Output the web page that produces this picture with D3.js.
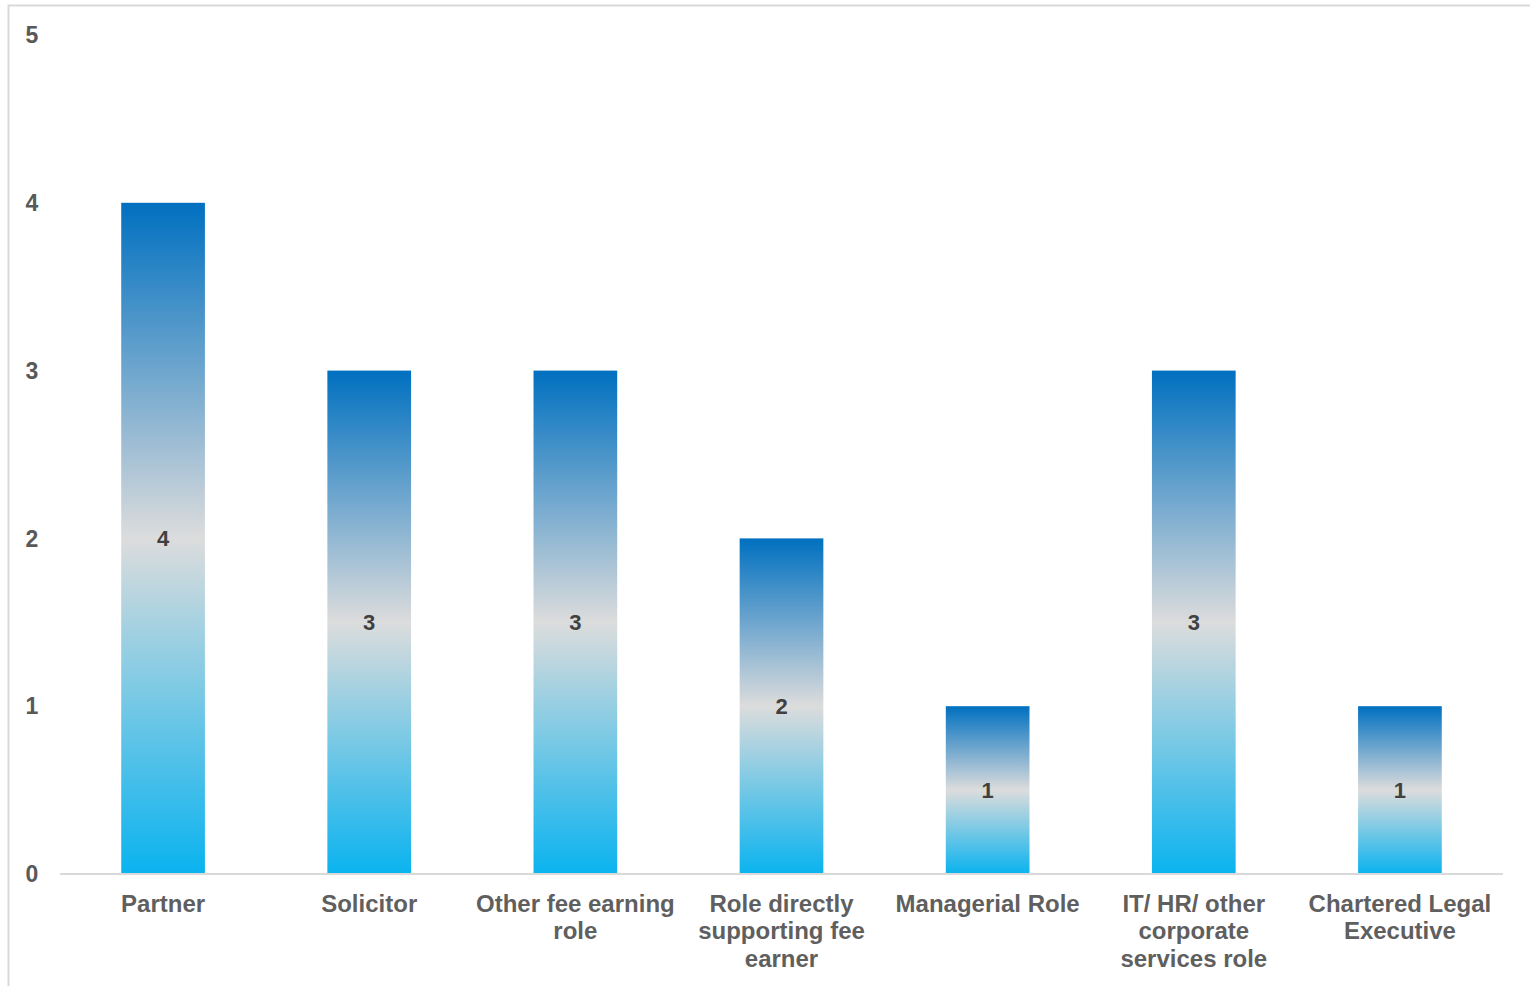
<!DOCTYPE html>
<html>
<head>
<meta charset="utf-8">
<script src="https://cdn.jsdelivr.net/npm/d3@7"></script>
<style>
  html, body { margin: 0; padding: 0; background: #fff; }
  svg { display: block; font-family: "Liberation Sans", Arial, sans-serif; }
</style>
</head>
<body>
<svg id="chart" width="1530" height="986"></svg>
<script>
const categories = ["Partner", "Solicitor", "Other fee earning role", "Role directly supporting fee earner", "Managerial Role", "IT/ HR/ other corporate services role", "Chartered Legal Executive"];
const values = [4, 3, 3, 2, 1, 3, 1];
const yTicks = [0, 1, 2, 3, 4, 5];

const svg = d3.select("#chart");
const W = 1530, H = 986;
const plot = { left: 60, right: 1503, top: 35, bottom: 874 };

// outer border (only top and left visible)
svg.append("rect")
  .attr("x", 8.5).attr("y", 5.5)
  .attr("width", W + 20).attr("height", H + 20)
  .attr("fill", "none").attr("stroke", "#d9d9d9").attr("stroke-width", 2);

const x = d3.scaleBand().domain(categories).range([plot.left, plot.right]).paddingInner(0.594).paddingOuter(0.297);
const y = d3.scaleLinear().domain([0, 5]).range([plot.bottom, plot.top]);

const defs = svg.append("defs");
const grad = defs.append("linearGradient").attr("id", "barGrad")
  .attr("x1", 0).attr("y1", 0).attr("x2", 0).attr("y2", 1);
grad.append("stop").attr("offset", "0%").attr("stop-color", "#0070C0");
grad.append("stop").attr("offset", "50%").attr("stop-color", "#DCDCDC");
grad.append("stop").attr("offset", "100%").attr("stop-color", "#0AB3EF");

svg.append("g").selectAll("rect").data(values).join("rect")
  .attr("x", (d, i) => x(categories[i]))
  .attr("y", d => y(d))
  .attr("width", x.bandwidth())
  .attr("height", d => y(0) - y(d))
  .attr("fill", "url(#barGrad)");

// value labels
svg.append("g").selectAll("text").data(values).join("text")
  .attr("x", (d, i) => x(categories[i]) + x.bandwidth() / 2)
  .attr("y", d => (y(d) + y(0)) / 2)
  .attr("dy", "0.36em")
  .attr("text-anchor", "middle")
  .attr("font-size", 22).attr("font-weight", "bold").attr("fill", "#404040")
  .text(d => d);

// baseline
svg.append("line")
  .attr("x1", plot.left).attr("x2", plot.right)
  .attr("y1", y(0)).attr("y2", y(0))
  .attr("stroke", "#d9d9d9").attr("stroke-width", 2);

// y tick labels
svg.append("g").selectAll("text").data(yTicks).join("text")
  .attr("x", 32).attr("y", d => y(d)).attr("dy", "0.36em")
  .attr("text-anchor", "middle")
  .attr("font-size", 23).attr("font-weight", "bold").attr("fill", "#595959")
  .text(d => d);

// category labels with wrapping
const maxW = 202;
const catG = svg.append("g");
categories.forEach(c => {
  const t = catG.append("text")
    .attr("x", x(c) + x.bandwidth() / 2)
    .attr("text-anchor", "middle")
    .attr("font-size", 24).attr("font-weight", "bold").attr("fill", "#5f5f5f");
  const words = c.split(" ");
  let lines = [], line = [];
  const probe = t.append("tspan");
  words.forEach(w => {
    const test = line.concat([w]).join(" ");
    probe.text(test);
    if (probe.node().getComputedTextLength() > maxW && line.length) {
      lines.push(line.join(" "));
      line = [w];
    } else line.push(w);
  });
  lines.push(line.join(" "));
  probe.remove();
  lines.forEach((l, i) => {
    t.append("tspan").attr("x", x(c) + x.bandwidth() / 2)
      .attr("y", 903 + i * 27.5).attr("dy", "0.36em").text(l);
  });
});
</script>
</body>
</html>
